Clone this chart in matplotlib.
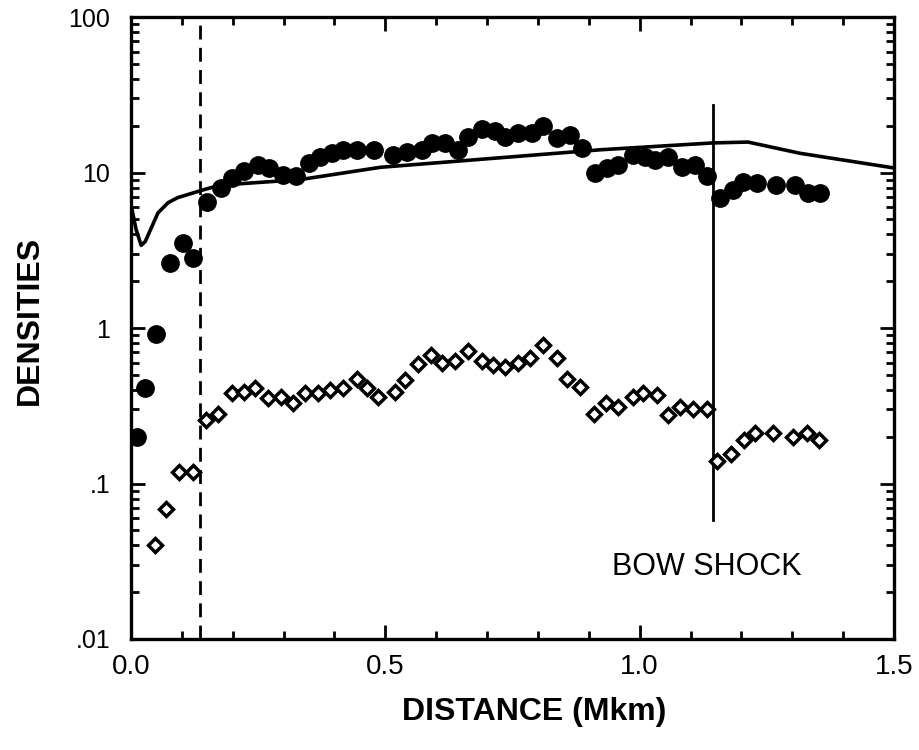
# densities vs distance, log scale
import numpy as np
import matplotlib
matplotlib.use("Agg")
import matplotlib.pyplot as plt
from matplotlib.ticker import MultipleLocator, LogLocator, NullFormatter

plt.rcParams['font.family'] = ['Liberation Sans', 'DejaVu Sans']

# filled circles
circ_x = [0.012, 0.028, 0.049, 0.077, 0.102, 0.122, 0.149, 0.177, 0.199, 0.222,
          0.250, 0.271, 0.299, 0.324, 0.350, 0.372, 0.395, 0.417, 0.444, 0.478,
          0.515, 0.543, 0.572, 0.592, 0.617, 0.643, 0.662, 0.690, 0.716, 0.735,
          0.761, 0.788, 0.810, 0.837, 0.863, 0.887, 0.912, 0.936, 0.957, 0.987,
          1.010, 1.030, 1.056, 1.083, 1.109, 1.132, 1.158, 1.183, 1.203, 1.231,
          1.268, 1.305, 1.331, 1.354]
circ_y = [0.20, 0.41, 0.91, 2.6, 3.5, 2.8, 6.5, 7.9, 9.2, 10.2,
          11.2, 10.7, 9.6, 9.5, 11.5, 12.6, 13.3, 14.0, 14.0, 13.9,
          12.9, 13.5, 14.0, 15.5, 15.5, 14.0, 16.9, 19.1, 18.5, 16.9,
          17.9, 17.9, 20.0, 16.7, 17.4, 14.4, 9.9, 10.7, 11.2, 13.0,
          12.6, 12.0, 12.6, 10.8, 11.2, 9.5, 6.9, 7.7, 8.7, 8.6,
          8.3, 8.3, 7.4, 7.4]

# open diamonds
diam_x = [0.047, 0.069, 0.094, 0.122, 0.147, 0.171, 0.199, 0.222, 0.244, 0.269,
          0.295, 0.318, 0.342, 0.368, 0.391, 0.417, 0.444, 0.464, 0.486, 0.519,
          0.539, 0.564, 0.590, 0.611, 0.637, 0.662, 0.690, 0.712, 0.735, 0.761,
          0.784, 0.810, 0.837, 0.857, 0.883, 0.910, 0.934, 0.957, 0.987, 1.006,
          1.034, 1.056, 1.079, 1.105, 1.132, 1.152, 1.179, 1.205, 1.227, 1.262,
          1.301, 1.329, 1.352]
diam_y = [0.040, 0.069, 0.119, 0.119, 0.256, 0.28, 0.38, 0.39, 0.41, 0.355,
          0.36, 0.33, 0.38, 0.38, 0.40, 0.41, 0.47, 0.41, 0.36, 0.39,
          0.46, 0.59, 0.67, 0.60, 0.61, 0.71, 0.61, 0.58, 0.56, 0.60,
          0.64, 0.78, 0.64, 0.47, 0.42, 0.28, 0.33, 0.31, 0.36, 0.38,
          0.37, 0.275, 0.31, 0.30, 0.30, 0.14, 0.155, 0.19, 0.21, 0.21,
          0.20, 0.21, 0.19]

# model curve
line_x = [0.0, 0.010, 0.020, 0.028, 0.053, 0.073, 0.092, 0.140, 0.175, 0.332,
          0.490, 0.922, 1.144, 1.213, 1.315, 1.500]
line_y = [6.2, 4.3, 3.4, 3.6, 5.5, 6.4, 6.9, 7.7, 8.3, 9.0,
          10.8, 14.0, 15.5, 15.7, 13.3, 10.7]

dash_x = 0.136
shock_x = 1.144
shock_range = (0.058, 27.0)

fig = plt.figure(figsize=(9.2, 7.5), dpi=100)
ax = fig.add_axes([0.1424, 0.148, 0.8293, 0.8293])

ax.plot(line_x, line_y, color='black', lw=2.6, zorder=3)
ax.axvline(dash_x, color='black', lw=2.0, dashes=(5, 3), zorder=2)
ax.plot([shock_x, shock_x], shock_range, color='black', lw=2.0, zorder=2)

ax.plot(circ_x, circ_y, 'o', ms=12.5, color='black', zorder=4)
ax.plot(diam_x, diam_y, 'D', ms=7, mfc='white', mec='black', mew=2.5, zorder=4)

ax.text(1.132, 0.029, "BOW SHOCK", fontsize=22, ha='center', va='center')

ax.set_yscale('log')
ax.set_xlim(0.0, 1.5)
ax.set_ylim(0.01, 100)

ax.set_xticks([0.0, 0.5, 1.0, 1.5])
ax.set_xticklabels(["0.0", "0.5", "1.0", "1.5"])
ax.xaxis.set_minor_locator(MultipleLocator(0.1))
ax.set_yticks([0.01, 0.1, 1, 10, 100])
ax.set_yticklabels([".01", ".1", "1", "10", "100"])
ax.yaxis.set_minor_locator(LogLocator(base=10, subs=np.arange(2, 10)))
ax.yaxis.set_minor_formatter(NullFormatter())

ax.tick_params(which='both', direction='in', top=True, right=True, width=2)
ax.tick_params(which='major', length=10)
ax.tick_params(which='minor', length=6)
ax.tick_params(axis='x', which='major', labelsize=20, pad=11)
ax.tick_params(axis='y', which='major', labelsize=18, pad=15)
for lab in ax.get_xticklabels() + ax.get_yticklabels():
    lab.set_fontweight('medium')
for s in ax.spines.values():
    s.set_linewidth(2.4)

fig.text(534 / 920, 1 - 712 / 750, "DISTANCE (Mkm)", fontsize=23,
         fontweight='bold', ha='center', va='center')
fig.text(30 / 920, 1 - 320 / 750, "DENSITIES", fontsize=23,
         fontweight='bold', ha='center', va='center', rotation=90)

fig.savefig("out.png", dpi=100)
